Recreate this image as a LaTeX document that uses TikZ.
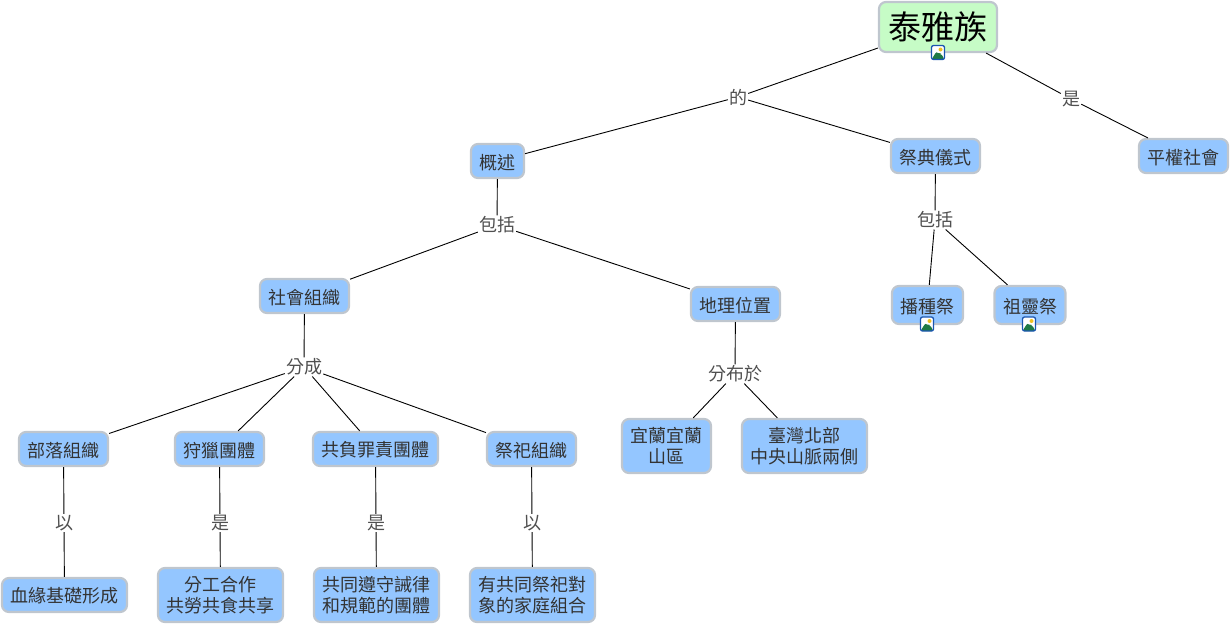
\documentclass[tikz,border=0pt]{standalone}
\usepackage{fontspec}
\setmainfont{Noto Sans CJK TC}
\usetikzlibrary{arrows.meta, positioning}
\definecolor{cmblue}{HTML}{94C6FF}
\definecolor{cmgreen}{HTML}{C6FCC6}
\definecolor{cmedge}{HTML}{BFC6CE}
\definecolor{cmtext}{HTML}{333333}
\definecolor{cmlink}{HTML}{505050}
\definecolor{cmicon}{HTML}{1A56B0}
\definecolor{cmhill}{HTML}{1F7A45}
\definecolor{cmsun}{HTML}{F0C020}

\begin{document}
\begin{tikzpicture}[
  x=1pt, y=-1pt,
  conceptnode/.style={rectangle, rounded corners=7pt, draw=cmedge, fill=cmblue, line width=2.2pt, minimum height=34pt, align=center, inner sep=0pt, text=cmtext, font=\fontsize{18}{21}\selectfont, execute at begin node={\rule{0pt}{17.5pt}}},
  rootnode/.style={conceptnode, fill=cmgreen, minimum width=118pt, minimum height=50pt, text=black, font=\fontsize{33}{36}\selectfont, execute at begin node={}},
  iconhost/.style={conceptnode, minimum width=71pt, minimum height=38pt, execute at begin node={}},
  wide/.style={minimum width=#1},
  linknode/.style={inner sep=1pt, text=cmlink, font=\fontsize{18}{21}\selectfont},
  iconnode/.style={rectangle, rounded corners=2pt, draw=cmicon, fill=white, line width=1.3pt, minimum width=13pt, minimum height=14pt, inner sep=0pt,
    path picture={
      \fill[cmhill] (path picture bounding box.south west) -- ++(5pt,8pt) -- ++(3pt,-3pt) -- ++(1.5pt,1pt) -- (path picture bounding box.south east) -- cycle;
      \fill[cmsun] ([xshift=-4pt,yshift=-4pt]path picture bounding box.north east) circle (2pt);
    }},
  tie/.style={draw=black, line width=0.9pt},
]
\useasboundingbox (0,0) rectangle (1230,625);

% Top level
\node[rootnode] (taiya) at (938,27) {泰雅族};
\node[linknode] (de) at (738,97) {的};
\node[linknode] (shi0) at (1071,99) {是};
\node[conceptnode, wide=53pt] (gaishu) at (497.5,161) {概述};
\node[conceptnode, wide=89pt] (jidian) at (935.5,156) {祭典儀式};
\node[conceptnode, wide=89pt] (pingquan) at (1183.5,156) {平權社會};

% Second level
\node[linknode] (baokuo1) at (497,225) {包括};
\node[linknode] (baokuo2) at (935,220) {包括};
\node[conceptnode, wide=89pt] (shehui) at (304.5,296) {社會組織};
\node[conceptnode, wide=89pt] (dili) at (735.5,304) {地理位置};
\node[iconhost] (bozhong) at (927.5,305) {播種祭};
\node[iconhost] (zuling) at (1030,305) {祖靈祭};

% Third level
\node[linknode] (fencheng) at (304,367) {分成};
\node[linknode] (fenbu) at (735,374) {分布於};
\node[conceptnode, wide=89pt] (buluo) at (63.5,449) {部落組織};
\node[conceptnode, wide=89pt] (shoulie) at (219.5,449) {狩獵團體};
\node[conceptnode, wide=125pt] (gongfu) at (375.5,449) {共負罪責團體};
\node[conceptnode, wide=89pt] (jisi) at (531.5,449) {祭祀組織};
\node[conceptnode, wide=89pt, minimum height=54pt] (yilan) at (666.5,446) {宜蘭宜蘭\\山區};
\node[conceptnode, wide=125pt, minimum height=54pt] (taiwan) at (804.5,446) {臺灣北部\\中央山脈兩側};

% Bottom level
\node[linknode] (yi1) at (64,523) {以};
\node[linknode] (shi1) at (220,523) {是};
\node[linknode] (shi2) at (376,523) {是};
\node[linknode] (yi2) at (532,523) {以};
\node[conceptnode, wide=125pt] (xueyuan) at (64.5,595) {血緣基礎形成};
\node[conceptnode, wide=125pt, minimum height=54pt] (fengong) at (220.5,595) {分工合作\\共勞共食共享};
\node[conceptnode, wide=125pt, minimum height=54pt] (gongtong) at (376.5,595) {共同遵守誡律\\和規範的團體};
\node[conceptnode, wide=125pt, minimum height=54pt] (jiating) at (532.5,595) {有共同祭祀對\\象的家庭組合};

% Connectors
\draw[tie] (taiya) -- (de);
\draw[tie] (taiya) -- (shi0);
\draw[tie] (de) -- (gaishu);
\draw[tie] (de) -- (jidian);
\draw[tie] (shi0) -- (pingquan);
\draw[tie] (gaishu) -- (baokuo1);
\draw[tie] (baokuo1) -- (shehui);
\draw[tie] (baokuo1) -- (dili);
\draw[tie] (jidian) -- (baokuo2);
\draw[tie] (baokuo2) -- (bozhong);
\draw[tie] (baokuo2) -- (zuling);
\draw[tie] (shehui) -- (fencheng);
\draw[tie] (fencheng) -- (buluo);
\draw[tie] (fencheng) -- (shoulie);
\draw[tie] (fencheng) -- (gongfu);
\draw[tie] (fencheng) -- (jisi);
\draw[tie] (dili) -- (fenbu);
\draw[tie] (fenbu) -- (yilan);
\draw[tie] (fenbu) -- (taiwan);
\draw[tie] (buluo) -- (yi1);
\draw[tie] (yi1) -- (xueyuan);
\draw[tie] (shoulie) -- (shi1);
\draw[tie] (shi1) -- (fengong);
\draw[tie] (gongfu) -- (shi2);
\draw[tie] (shi2) -- (gongtong);
\draw[tie] (jisi) -- (yi2);
\draw[tie] (yi2) -- (jiating);

% Image markers
\node[iconnode] (icon1) at (938,52.5) {};
\node[iconnode] (icon2) at (927,324) {};
\node[iconnode] (icon3) at (1029,324) {};

\end{tikzpicture}
\end{document}
